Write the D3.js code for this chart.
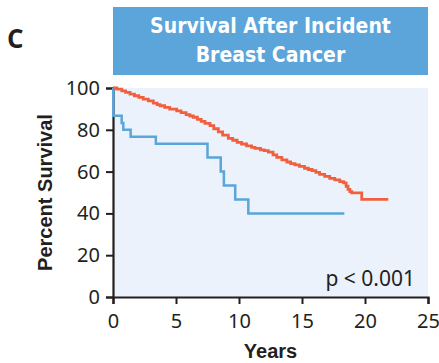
<!DOCTYPE html>
<html>
<head>
<meta charset="utf-8">
<script src="https://cdn.jsdelivr.net/npm/d3@7"></script>
<style>
  body { margin: 0; background: #fff; }
  svg { display: block; }
</style>
</head>
<body>
<div id="container"></div>
<script>
const width = 439,
  height = 363,
  margin = { top: 88, right: 11, bottom: 66, left: 113 }

// reference group (red) - Kaplan-Meier estimate
const refYears = [0, 0.3, 0.7, 1.0, 1.35, 1.7, 2.05, 2.4, 2.8, 3.2, 3.5, 3.73, 4.1, 4.5, 5.06, 5.4, 5.8, 6.1, 6.37, 6.7, 7.0, 7.3, 7.7, 8.0, 8.36, 8.7, 9.15, 9.5, 9.85, 10.2, 10.6, 11.0, 11.27, 11.7, 12.0, 12.33, 12.7, 13.0, 13.4, 13.8, 14.1, 14.44, 14.8, 15.2, 15.5, 15.8, 16.1, 16.4, 16.8, 17.2, 17.6, 18.0, 18.3, 18.5, 18.65, 18.8, 18.95, 19.74, 21.85]
const refSurv  = [100, 99.5, 98.6, 97.9, 97.1, 96.3, 95.5, 94.7, 93.8, 92.8, 92.0, 91.5, 90.7, 89.9, 89.1, 88.2, 87.3, 86.6, 86.0, 85.0, 84.0, 83.1, 82.0, 80.5, 79.0, 77.5, 75.9, 75.0, 74.0, 73.2, 72.3, 71.6, 71.1, 70.4, 70.0, 69.3, 68.0, 66.8, 65.6, 64.6, 63.8, 63.2, 62.5, 61.6, 61.0, 60.5, 59.6, 58.7, 57.7, 56.8, 56.0, 55.2, 54.6, 53.0, 51.5, 50.4, 49.8, 46.7, 46.7]

// comparison group (blue)
const cmpYears = [0, 0.02, 0.69, 0.82, 1.4, 3.4, 7.5, 8.55, 8.8, 9.7, 10.74, 18.36]
const cmpSurv  = [100, 86.7, 83.3, 80, 76.7, 73.3, 66.7, 60, 53.3, 46.7, 40, 40]

const xTicks = [0, 5, 10, 15, 20, 25]
const yTicks = [0, 20, 40, 60, 80, 100]

const svg = d3.select("#container")
  .append("svg")
  .attr("width", width)
  .attr("height", height)

const xScale = d3.scaleLinear()
  .domain([0, 25])
  .range([margin.left, width - margin.right])

const yScale = d3.scaleLinear()
  .domain([0, 100])
  .range([height - margin.bottom, margin.top])

// plot background
svg.append("rect")
  .attr("x", xScale(0))
  .attr("y", yScale(100))
  .attr("width", xScale(25) - xScale(0))
  .attr("height", yScale(0) - yScale(100))
  .attr("fill", "#ebf2fb")

// title box
svg.append("rect")
  .attr("x", xScale(0))
  .attr("y", 7)
  .attr("width", xScale(25) - xScale(0))
  .attr("height", 68)
  .attr("fill", "#5ba5da")

const titleLines = ["Survival After Incident", "Breast Cancer"]
svg.selectAll(".title")
  .data(titleLines)
  .join("text")
  .attr("class", "title")
  .attr("x", (xScale(0) + xScale(25)) / 2)
  .attr("y", (d, i) => 33 + i * 29)
  .attr("text-anchor", "middle")
  .attr("fill", "#fff")
  .style("font", "bold 21px 'Liberation Sans Narrow', 'DejaVu Sans Condensed', sans-serif")
  .text(d => d)

svg.append("text")
  .attr("x", 7)
  .attr("y", 48)
  .style("font", "bold 26px 'Open Sans', sans-serif")
  .attr("fill", "#231f20")
  .text("C")

// AXES
const xAxis = d3.axisBottom(xScale).tickValues(xTicks).tickSize(7).tickPadding(10)
const gx = svg.append("g")
  .attr("transform", `translate(0,${yScale(0)})`)
  .call(xAxis)
gx.select(".domain").attr("stroke", "#231f20").attr("stroke-width", 2.2)
gx.selectAll(".tick line").attr("stroke", "#231f20").attr("stroke-width", 2)
gx.selectAll(".tick text")
  .style("font", "20px 'Noto Sans', sans-serif")
  .attr("fill", "#231f20")

const yAxis = d3.axisLeft(yScale).tickValues(yTicks).tickSize(7).tickPadding(6)
const gy = svg.append("g")
  .attr("transform", `translate(${xScale(0)},0)`)
  .call(yAxis)
gy.select(".domain").attr("stroke", "#231f20").attr("stroke-width", 2.2)
gy.selectAll(".tick line").attr("stroke", "#231f20").attr("stroke-width", 2)
gy.selectAll(".tick text")
  .style("font", "20px 'Noto Sans', sans-serif")
  .attr("fill", "#231f20")

svg.append("text")
  .attr("x", (xScale(0) + xScale(25)) / 2)
  .attr("y", 358)
  .attr("text-anchor", "middle")
  .style("font", "bold 20px 'Liberation Sans Narrow', sans-serif")
  .attr("fill", "#231f20")
  .text("Years")

svg.append("text")
  .attr("transform", `translate(52,${(yScale(0) + yScale(100)) / 2}) rotate(-90)`)
  .attr("text-anchor", "middle")
  .style("font", "bold 20px 'Liberation Sans Narrow', sans-serif")
  .attr("fill", "#231f20")
  .text("Percent Survival")

svg.append("text")
  .attr("x", 415)
  .attr("y", 286)
  .attr("text-anchor", "end")
  .style("font", "21px 'Noto Sans', sans-serif")
  .attr("fill", "#231f20")
  .text("p < 0.001")

// LINES
const lineGen = d3.line()
  .x(d => xScale(d[0]))
  .y(d => yScale(d[1]))
  .curve(d3.curveStepAfter)

svg.append("path")
  .datum(d3.zip(cmpYears, cmpSurv))
  .attr("fill", "none")
  .attr("stroke", "#5aa5da")
  .attr("stroke-width", 2.5)
  .attr("d", lineGen)

svg.append("path")
  .datum(d3.zip(refYears, refSurv))
  .attr("fill", "none")
  .attr("stroke", "#f0603f")
  .attr("stroke-width", 2.8)
  .attr("d", lineGen)
</script>
</body>
</html>
